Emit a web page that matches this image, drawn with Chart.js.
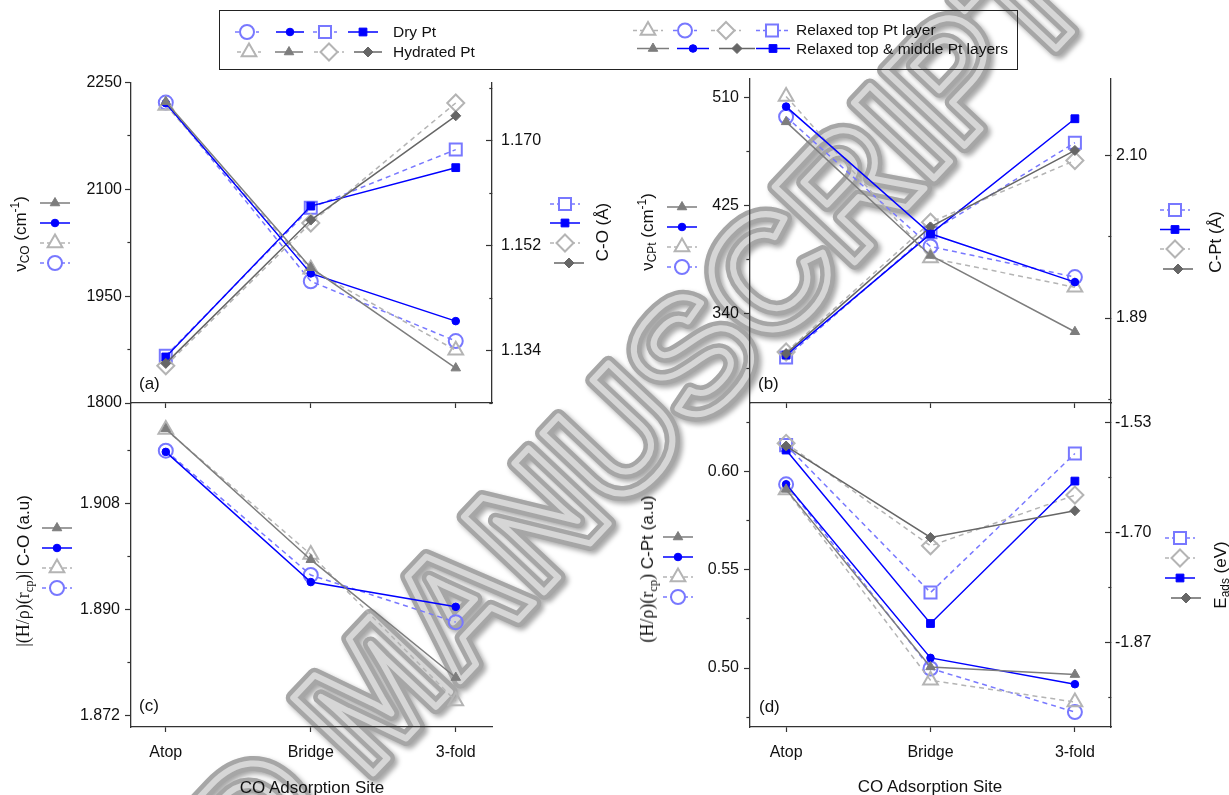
<!DOCTYPE html>
<html>
<head>
<meta charset="utf-8">
<title>CO adsorption on Pt</title>
<script src="https://cdn.jsdelivr.net/npm/chart.js@4.4.1/dist/chart.umd.min.js"></script>
<style>
  body { margin: 0; background: #fff; }
  #page { position: relative; width: 1229px; height: 795px; overflow: hidden;
          font-family: "Liberation Sans", Arial, sans-serif; color: #111; }
  canvas { position: absolute; }
  .txt { position: absolute; white-space: nowrap; line-height: 1; font-size: 17px; }
  .vt { position: absolute; white-space: nowrap; line-height: 1; font-size: 17px;
        transform: translate(-50%, -50%) rotate(-90deg); }
  .ct { position: absolute; white-space: nowrap; line-height: 1; font-size: 17px;
        transform: translate(-50%, -50%); }
  .lg { position: absolute; white-space: nowrap; line-height: 1; font-size: 15.5px;
        transform: translateY(-50%); }
  .serif { font-family: "Liberation Serif", "Times New Roman", serif; font-size: 18px; }
  sub { font-size: 0.7em; vertical-align: -0.3em; line-height: 0; }
  sup { font-size: 0.7em; vertical-align: 0.55em; line-height: 0; }
  #legend { position: absolute; left: 219px; top: 10px; width: 799px; height: 60px;
            border: 1px solid #222; box-sizing: border-box; }
</style>
</head>
<body>
<div id="page">
  <canvas id="wm" width="1229" height="795" style="left:0;top:0"></canvas>
  <div id="legend"></div>
  <canvas id="cA" width="521" height="395" style="left:51px;top:58px"></canvas>
  <canvas id="cB" width="521" height="395" style="left:670px;top:58px"></canvas>
  <canvas id="cC" width="521" height="394" style="left:51px;top:383px"></canvas>
  <canvas id="cD" width="521" height="394" style="left:670px;top:383px"></canvas>
  <canvas id="marks" width="1229" height="795" style="left:0;top:0;pointer-events:none"></canvas>

  <div class="lg" style="left:393px;top:32px">Dry Pt</div>
  <div class="lg" style="left:393px;top:52px">Hydrated Pt</div>
  <div class="lg" style="left:796px;top:30px">Relaxed top Pt layer</div>
  <div class="lg" style="left:796px;top:49px">Relaxed top &amp; middle Pt layers</div>

  <div class="vt" style="left:20px;top:234px">&nu;<sub>CO</sub> (cm<sup>-1</sup>)</div>
  <div class="vt" style="left:602px;top:232px">C-O (Å)</div>
  <div class="vt" style="left:647px;top:232px">&nu;<sub>CPt</sub> (cm<sup>-1</sup>)</div>
  <div class="vt" style="left:1215px;top:242px">C-Pt (Å)</div>
  <div class="vt" style="left:23px;top:571px"><span class="serif">|(H/&rho;)(r<sub>cp</sub>)|</span> C-O (a.u)</div>
  <div class="vt" style="left:647px;top:569px"><span class="serif">(H/&rho;)(r<sub>cp</sub>)</span> C-Pt (a.u)</div>
  <div class="vt" style="left:1220px;top:575px">E<sub>ads</sub> (eV)</div>

  <div class="txt" style="left:139px;top:375px">(a)</div>
  <div class="txt" style="left:758px;top:375px">(b)</div>
  <div class="txt" style="left:139px;top:697px">(c)</div>
  <div class="txt" style="left:759px;top:698px">(d)</div>

  <div class="ct" style="left:312px;top:787px">CO Adsorption Site</div>
  <div class="ct" style="left:930px;top:786px">CO Adsorption Site</div>
</div>

<script>
const sites = ['Atop', 'Bridge', '3-fold'];

// (a) C-O stretching frequency (cm-1)
const nuCO_dryTop = [2222, 1971, 1887];
const nuCO_dryMid = [2221, 1982, 1915];
const nuCO_hydTop = [2218, 1988, 1874];
const nuCO_hydMid = [2223, 1990, 1849];
// (a) C-O bond length (Å)
const rCO_dryTop = [1.1331, 1.1585, 1.1685];
const rCO_dryMid = [1.1329, 1.1588, 1.1654];
const rCO_hydTop = [1.1314, 1.1559, 1.1765];
const rCO_hydMid = [1.1318, 1.1564, 1.1743];

// (b) C-Pt stretching frequency (cm-1)
const nuCPt_dryTop = [495, 393, 369];
const nuCPt_dryMid = [503, 403, 365];
const nuCPt_hydTop = [511, 384, 361];
const nuCPt_hydMid = [491, 386, 326];
// (b) C-Pt distance (Å)
const rCPt_dryTop = [1.839, 2.001, 2.117];
const rCPt_dryMid = [1.842, 1.999, 2.148];
const rCPt_hydTop = [1.846, 2.014, 2.094];
const rCPt_hydMid = [1.844, 2.008, 2.107];

// (c) |(H/rho)(rcp)| of C-O (a.u.)
const hCO_dryTop = [1.9169, 1.8958, 1.8878];
const hCO_dryMid = [1.9167, 1.8946, 1.8904];
const hCO_hydTop = [1.9205, 1.8993, 1.8744];
const hCO_hydMid = [1.9206, 1.8984, 1.8784];

// (d) (H/rho)(rcp) of C-Pt (a.u.)
const hCPt_dryTop = [0.5936, 0.4998, 0.4776];
const hCPt_dryMid = [0.5936, 0.5052, 0.4918];
const hCPt_hydTop = [0.5907, 0.4938, 0.4827];
const hCPt_hydMid = [0.5910, 0.5006, 0.4967];
// (d) adsorption energy (eV)
const eads_dryTop = [-1.565, -1.7925, -1.578];
const eads_dryMid = [-1.5726, -1.8403, -1.6205];
const eads_hydTop = [-1.5623, -1.7204, -1.6421];
const eads_hydMid = [-1.5664, -1.7075, -1.6663];

// tick marks, and which of them carry a label
const ticksNuCO = [1800, 1875, 1950, 2025, 2100, 2175, 2250];
const labelsNuCO = [1800, 1950, 2100, 2250];
const ticksRCO = [1.125, 1.134, 1.143, 1.152, 1.161, 1.170, 1.179];
const labelsRCO = [1.134, 1.152, 1.170];
const ticksNuCPt = [297.5, 340, 382.5, 425, 467.5, 510];
const labelsNuCPt = [340, 425, 510];
const ticksRCPt = [1.785, 1.89, 1.995, 2.10];
const labelsRCPt = [1.89, 2.10];
const ticksHCO = [1.872, 1.881, 1.890, 1.899, 1.908, 1.917];
const labelsHCO = [1.872, 1.890, 1.908];
const ticksHCPt = [0.475, 0.50, 0.525, 0.55, 0.575, 0.60, 0.625];
const labelsHCPt = [0.50, 0.55, 0.60];
const ticksEads = [-1.955, -1.87, -1.785, -1.70, -1.615, -1.53];
const labelsEads = [-1.87, -1.70, -1.53];

// line / marker look of each model
const look = {
  dryTop: { color: '#7878ff', dash: [5, 4], open: true },
  dryMid: { color: '#0000ff', dash: [], open: false },
  hydTop: { color: '#b4b4b4', dash: [5, 4], open: true },
  hydMid: { color: '#7d7d7d', dash: [], open: false }
};
const tickFont = { family: '"Liberation Sans", Arial, sans-serif', size: 16 };

function colorOf(kind, shape) {
  return (kind === 'hydMid' && shape === 'rectRot') ? '#666666' : look[kind].color;
}
function radiusOf(open, shape) {
  const r = { circle: [3.8, 7], triangle: [5.5, 8.5], rect: [5.5, 8.5], rectRot: [5, 8.5] };
  return r[shape][open ? 1 : 0];
}

function series(values, kind, shape, yAxisID) {
  const lk = look[kind];
  const color = colorOf(kind, shape);
  return {
    label: kind + ' ' + shape,
    yAxisID,
    data: values.map((v, i) => ({ x: i, y: v })),
    borderColor: color,
    borderWidth: 1.5,
    borderDash: lk.dash,
    pointStyle: shape,
    pointRadius: radiusOf(lk.open, shape),
    pointBorderColor: color,
    pointBackgroundColor: lk.open ? 'rgba(0,0,0,0)' : color,
    pointBorderWidth: lk.open ? 2 : 1,
    tension: 0,
    fill: false
  };
}

function yScale(position, min, max, ticks, labels, decimals, pad) {
  const isMajor = v => labels.some(m => Math.abs(m - v) < 1e-9);
  const left = position === 'left';
  return {
    type: 'linear', position, min, max,
    afterBuildTicks: s => { s.ticks = ticks.map(v => ({ value: v })); },
    afterFit: s => { s.width = 80; },
    ticks: {
      autoSkip: false, padding: pad, color: '#111', font: tickFont,
      callback: v => isMajor(v) ? v.toFixed(decimals) : ''
    },
    grid: {
      drawOnChartArea: false, drawTicks: true,
      tickLength: left ? 6 : -6,   // right axes have inward ticks
      tickColor: '#333', tickWidth: 1.2,
      // minor ticks: only the 3px next to the axis line
      tickBorderDash: c => (c.tick && !isMajor(c.tick.value)) ? [3, 30] : [],
      tickBorderDashOffset: c => (c.tick && !isMajor(c.tick.value) && left) ? 30.6 : 0
    },
    border: { color: '#333', width: 1.3 }
  };
}

function xScale(min, max, labelled) {
  return {
    type: 'linear', position: 'bottom', min, max,
    afterBuildTicks: s => { s.ticks = sites.map((_, i) => ({ value: i })); },
    afterFit: s => { s.height = 50; },
    ticks: {
      autoSkip: false, maxRotation: 0, padding: 11, color: '#111', font: tickFont,
      callback: v => labelled ? sites[v] : ''
    },
    grid: { drawOnChartArea: false, tickLength: 5, tickColor: '#333', tickWidth: 1.2 },
    border: { color: '#333', width: 1.3 }
  };
}

function panel(id, datasets, scales, rightPad) {
  return new Chart(document.getElementById(id), {
    type: 'line',
    data: { datasets },
    options: {
      responsive: false,
      animation: false,
      devicePixelRatio: 1,
      layout: { padding: { top: 20, right: rightPad, bottom: 0, left: 0 }, autoPadding: false },
      plugins: { legend: { display: false }, tooltip: { enabled: false } },
      scales
    }
  });
}

// ---- watermark (behind the charts)
(function () {
  const c = document.getElementById('wm').getContext('2d');
  c.save();
  c.translate(366, 781);
  c.rotate(-46.7 * Math.PI / 180);
  c.font = 'bold 160px "Liberation Sans", Arial, sans-serif';
  c.lineJoin = 'round';
  c.shadowColor = 'rgba(0,0,0,0.35)';
  c.shadowBlur = 5; c.shadowOffsetX = 3; c.shadowOffsetY = 3;
  c.strokeStyle = '#a6a6a6'; c.lineWidth = 15;
  c.textAlign = 'left'; c.strokeText('MANUSCRIPT', 0, 0);
  c.textAlign = 'right'; c.strokeText('ACCEPTED ', 0, 0);
  c.shadowColor = 'rgba(0,0,0,0)';
  c.strokeStyle = '#d6d6d6'; c.lineWidth = 6;
  c.textAlign = 'left'; c.strokeText('MANUSCRIPT', 0, 0);
  c.textAlign = 'right'; c.strokeText('ACCEPTED ', 0, 0);
  c.restore();
})();

// ---- (a)
panel('cA', [
  series(nuCO_hydMid, 'hydMid', 'triangle', 'y'),
  series(nuCO_dryMid, 'dryMid', 'circle', 'y'),
  series(rCO_hydMid, 'hydMid', 'rectRot', 'y2'),
  series(rCO_dryMid, 'dryMid', 'rect', 'y2'),
  series(nuCO_hydTop, 'hydTop', 'triangle', 'y'),
  series(nuCO_dryTop, 'dryTop', 'circle', 'y'),
  series(rCO_hydTop, 'hydTop', 'rectRot', 'y2'),
  series(rCO_dryTop, 'dryTop', 'rect', 'y2')
], {
  x: xScale(-0.24, 2.25, false),
  y: yScale('left', 1800, 2250, ticksNuCO, labelsNuCO, 0, 3),
  y2: yScale('right', 1.125, 1.18, ticksRCO, labelsRCO, 3, 15)
}, 0);

// ---- (b)
panel('cB', [
  series(nuCPt_hydMid, 'hydMid', 'triangle', 'y'),
  series(nuCPt_dryMid, 'dryMid', 'circle', 'y'),
  series(rCPt_hydMid, 'hydMid', 'rectRot', 'y2'),
  series(rCPt_dryMid, 'dryMid', 'rect', 'y2'),
  series(nuCPt_hydTop, 'hydTop', 'triangle', 'y'),
  series(nuCPt_dryTop, 'dryTop', 'circle', 'y'),
  series(rCPt_hydTop, 'hydTop', 'rectRot', 'y2'),
  series(rCPt_dryTop, 'dryTop', 'rect', 'y2')
], {
  x: xScale(-0.25, 2.25, false),
  y: yScale('left', 270, 525, ticksNuCPt, labelsNuCPt, 0, 5),
  y2: yScale('right', 1.78, 2.20, ticksRCPt, labelsRCPt, 2, 11)
}, 0);

// ---- (c)
panel('cC', [
  series(hCO_hydMid, 'hydMid', 'triangle', 'y'),
  series(hCO_dryMid, 'dryMid', 'circle', 'y'),
  series(hCO_hydTop, 'hydTop', 'triangle', 'y'),
  series(hCO_dryTop, 'dryTop', 'circle', 'y')
], {
  x: xScale(-0.24, 2.25, true),
  y: yScale('left', 1.870, 1.925, ticksHCO, labelsHCO, 3, 5)
}, 80);

// ---- (d)
panel('cD', [
  series(hCPt_hydMid, 'hydMid', 'triangle', 'y'),
  series(hCPt_dryMid, 'dryMid', 'circle', 'y'),
  series(eads_hydMid, 'hydMid', 'rectRot', 'y2'),
  series(eads_dryMid, 'dryMid', 'rect', 'y2'),
  series(hCPt_hydTop, 'hydTop', 'triangle', 'y'),
  series(hCPt_dryTop, 'dryTop', 'circle', 'y'),
  series(eads_hydTop, 'hydTop', 'rectRot', 'y2'),
  series(eads_dryTop, 'dryTop', 'rect', 'y2')
], {
  x: xScale(-0.25, 2.25, true),
  y: yScale('left', 0.47, 0.635, ticksHCPt, labelsHCPt, 2, 5),
  y2: yScale('right', -2.0, -1.5, ticksEads, labelsEads, 2, 10)
}, 0);

// ---- legend symbols (top box and the keys beside the axis titles)
const mk = document.getElementById('marks').getContext('2d');
function mark(x, y, kind, shape, half) {
  const lk = look[kind];
  const color = colorOf(kind, shape);
  const r = radiusOf(lk.open, shape);
  half = half || 15;
  mk.save();
  mk.strokeStyle = color;
  mk.lineWidth = 1.5;
  mk.setLineDash(lk.dash.length ? [4, 3] : []);
  mk.beginPath(); mk.moveTo(x - half, y); mk.lineTo(x + half, y); mk.stroke();
  mk.setLineDash([]);
  mk.beginPath();
  if (shape === 'circle') {
    mk.arc(x, y, r, 0, Math.PI * 2);
  } else if (shape === 'triangle') {
    mk.moveTo(x, y - r); mk.lineTo(x + 0.866 * r, y + 0.5 * r); mk.lineTo(x - 0.866 * r, y + 0.5 * r); mk.closePath();
  } else if (shape === 'rect') {
    const s = r * Math.SQRT1_2;
    mk.rect(x - s, y - s, 2 * s, 2 * s);
  } else {
    mk.moveTo(x, y - r); mk.lineTo(x + r, y); mk.lineTo(x, y + r); mk.lineTo(x - r, y); mk.closePath();
  }
  mk.fillStyle = lk.open ? '#fff' : color;
  mk.fill();
  mk.lineWidth = lk.open ? 2 : 1;
  mk.stroke();
  mk.restore();
}

// top legend
mark(247, 32, 'dryTop', 'circle', 12);
mark(290, 32, 'dryMid', 'circle', 14);
mark(325, 32, 'dryTop', 'rect', 12);
mark(363, 32, 'dryMid', 'rect', 15);
mark(249, 52, 'hydTop', 'triangle', 12);
mark(289, 52, 'hydMid', 'triangle', 14);
mark(329, 52, 'hydTop', 'rectRot', 0);
mark(368, 52, 'hydMid', 'rectRot', 14);
mark(648, 30.5, 'hydTop', 'triangle', 15);
mark(685, 30.5, 'dryTop', 'circle', 12);
mark(726, 30.5, 'hydTop', 'rectRot', 0);
mark(772, 30.5, 'dryTop', 'rect', 16);
mark(653, 48.5, 'hydMid', 'triangle', 16);
mark(693, 48.5, 'dryMid', 'circle', 16);
mark(737, 48.5, 'hydMid', 'rectRot', 18);
mark(773, 48.5, 'dryMid', 'rect', 17);

// keys next to the axis titles
function leftKey(x, ys) {
  mark(x, ys[0], 'hydMid', 'triangle');
  mark(x, ys[1], 'dryMid', 'circle');
  mark(x, ys[2], 'hydTop', 'triangle');
  mark(x, ys[3], 'dryTop', 'circle');
}
leftKey(55, [203, 223, 243, 263]);
leftKey(682, [207, 227, 247, 267]);
leftKey(57, [528, 548, 568, 588]);
leftKey(678, [537, 557, 577, 597]);

mark(565, 204, 'dryTop', 'rect');
mark(565, 223, 'dryMid', 'rect');
mark(565, 243, 'hydTop', 'rectRot');
mark(569, 263, 'hydMid', 'rectRot');

mark(1175, 210, 'dryTop', 'rect');
mark(1175, 229.5, 'dryMid', 'rect');
mark(1175, 249, 'hydTop', 'rectRot');
mark(1178, 269, 'hydMid', 'rectRot');

mark(1180, 538, 'dryTop', 'rect');
mark(1180, 558, 'hydTop', 'rectRot');
mark(1180, 578, 'dryMid', 'rect');
mark(1186, 598, 'hydMid', 'rectRot');
</script>
</body>
</html>
